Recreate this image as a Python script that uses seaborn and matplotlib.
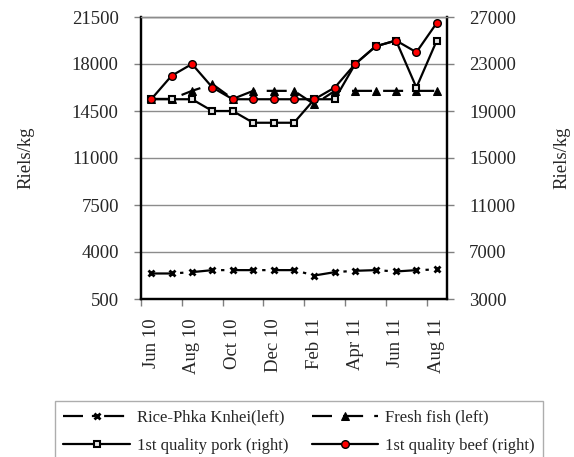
import numpy as np
import pandas as pd
import matplotlib.pyplot as plt
import seaborn as sns

sns.set_theme(style="white")
plt.rcParams["font.family"] = ["Liberation Serif", "DejaVu Serif"]

# Datos (Riels/kg)
meses = ["Jun 10", "Jul 10", "Aug 10", "Sep 10", "Oct 10", "Nov 10", "Dec 10", "Jan 11",
         "Feb 11", "Mar 11", "Apr 11", "May 11", "Jun 11", "Jul 11", "Aug 11"]
arroz = [2400, 2400, 2500, 2650, 2650, 2650, 2650, 2650, 2250, 2500, 2600, 2650, 2550, 2650, 2700]
pescado = [15400, 15400, 16000, 16500, 15400, 16000, 16000, 16000, 15000, 16000, 16000, 16000, 16000, 16000, 16000]
cerdo = [20000, 20000, 20000, 19000, 19000, 18000, 18000, 18000, 20000, 20000, 23000, 24500, 25000, 21000, 25000]
res = [20000, 22000, 23000, 21000, 20000, 20000, 20000, 20000, 20000, 21000, 23000, 24500, 25000, 24000, 26500]

df = pd.DataFrame({"pos": np.arange(len(meses)), "mes": meses,
                   "arroz": arroz, "pescado": pescado, "cerdo": cerdo, "res": res})

W, H = 574, 457
fig = plt.figure(figsize=(W / 100, H / 100), dpi=100)
ax = fig.add_axes([141 / W, 1 - 299 / H, 306 / W, 282 / H])
ax2 = ax.twinx()

# Eje izquierdo: arroz y pescado
sns.lineplot(x="pos", y="arroz", data=df, ax=ax, color="black", lw=1.6,
             linestyle=(0, (9, 4, 1.5, 4)), marker="x", markersize=4.5, mew=2, mec="black",
             label="Rice-Phka Knhei(left)")
sns.lineplot(x="pos", y="pescado", data=df, ax=ax, color="black", lw=1.6,
             linestyle=(0, (9, 5)), marker="^", markersize=6, mec="black",
             label="Fresh fish (left)")
# Eje derecho: cerdo y res
sns.lineplot(x="pos", y="cerdo", data=df, ax=ax2, color="black", lw=1.6,
             marker="s", markersize=5, mfc="#e6e6e6", mec="black", mew=1.5,
             label="1st quality pork (right)")
sns.lineplot(x="pos", y="res", data=df, ax=ax2, color="black", lw=1.6,
             marker="o", markersize=5.5, mfc="red", mec="black", mew=1,
             label="1st quality beef (right)")

ax.set_xlim(-0.5, len(meses) - 0.5)
ax.set_ylim(500, 21500)
ax.set_yticks(range(500, 21501, 3500))
ax2.set_ylim(3000, 27000)
ax2.set_yticks(range(3000, 27001, 4000))

ax.set_xticks(df["pos"][::2])
ax.set_xticklabels(df["mes"][::2], rotation=90, fontsize=13.5)
ax.set_xticks(np.arange(-0.5, len(meses) - 1, 2), minor=True)
ax.tick_params(axis="x", which="major", length=0, pad=14)
ax.tick_params(axis="x", which="minor", bottom=True, length=5, width=1, color="gray", direction="out")
ax.tick_params(axis="y", left=True, length=5, width=1, color="gray", direction="out", pad=11, labelsize=13.5)
ax2.tick_params(axis="y", right=True, length=5, width=1, color="gray", direction="out", pad=11, labelsize=13.5)

ax.grid(axis="y", color="#8c8c8c", lw=1)
ax.set_axisbelow(True)
for a in (ax, ax2):
    a.spines["top"].set_color("#8c8c8c")
    a.spines["top"].set_linewidth(1)
    for s in ("left", "right", "bottom"):
        a.spines[s].set_color("black")
        a.spines[s].set_linewidth(1.6)

ax.set_xlabel("")
ax.set_ylabel("Riels/kg", fontsize=13.5)
ax2.set_ylabel("Riels/kg", fontsize=13.5)
ax.yaxis.set_label_coords((26 - 141) / 306, 0.5)
ax2.yaxis.set_label_coords((562 - 141) / 306, 0.5)
ax.yaxis.label.set_va("center")
ax2.yaxis.label.set_va("center")

# Leyenda combinada abajo
h1, l1 = ax.get_legend_handles_labels()
h2, l2 = ax2.get_legend_handles_labels()
ax.get_legend().remove()
ax2.get_legend().remove()
orden = [0, 2, 1, 3]
hs = [(h1 + h2)[i] for i in orden]
ls = [(l1 + l2)[i] for i in orden]
fig.legend(hs, ls, ncol=2, loc="upper left", bbox_to_anchor=(55 / W, 1 - 401 / H),
           fontsize=12, frameon=True, fancybox=False, edgecolor="#999999",
           handlelength=4.0, handletextpad=0.4, columnspacing=1.4,
           labelspacing=0.75, borderpad=0.5, borderaxespad=0)

fig.savefig("out.png", dpi=100, facecolor="white")
